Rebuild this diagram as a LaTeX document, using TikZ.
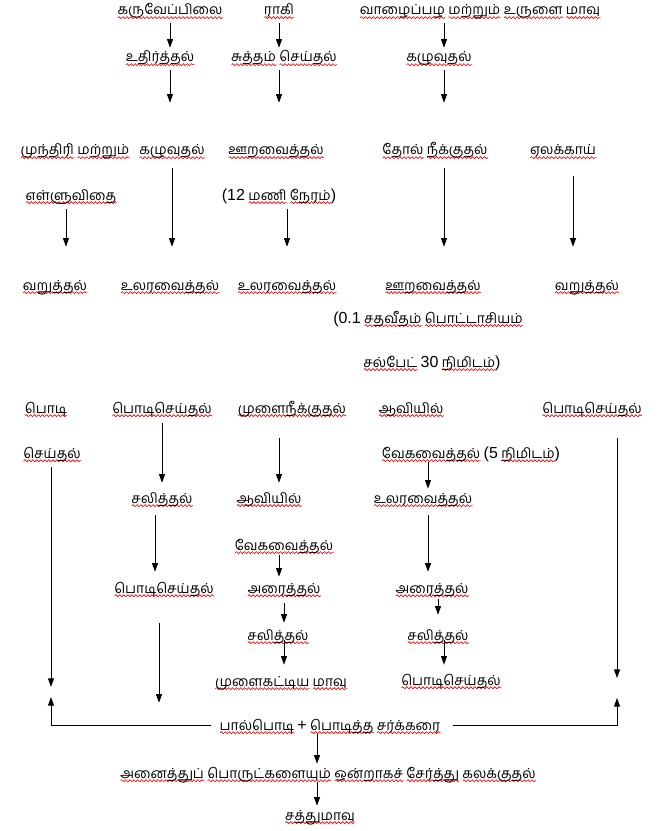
\documentclass[tikz,border=0pt]{standalone}
\usepackage{fontspec}
\setmainfont[Script=Tamil]{Hind Madurai}
\newfontfamily\latfont{Liberation Sans}
\usetikzlibrary{arrows.meta}
\usetikzlibrary{decorations.pathmorphing}
\newsavebox\wvbox
\newlength\wvlen
\newcommand\wv[1]{\sbox\wvbox{#1}\setlength\wvlen{\wd\wvbox}%
  \rlap{\tikz[baseline=0pt,x=1pt,y=1pt]\draw[red,line width=0.5pt,decorate,
    decoration={snake,amplitude=0.75pt,segment length=3pt}] (0,-2) -- (\wvlen,-2);}%
  \usebox\wvbox}
\newcommand\lt[1]{{\latfont\fontsize{12}{14}\selectfont #1}}

\begin{document}
\begin{tikzpicture}[x=0.75pt,y=-0.75pt,line width=0.75pt,
  every node/.style={inner sep=0pt,anchor=base,text height=10.5pt,text depth=3pt,
    font=\fontsize{10.4}{12}\selectfont},
  arr/.style={-{Triangle[width=4.5pt,length=6.5pt]}}]
\useasboundingbox (0,0) rectangle (669,831);

\node (kv)  at (170,15)  {\wv{கருவேப்பிலை}};
\node (rg)  at (279,15)  {\wv{ராகி}};
\node (vz)  at (480,15)  {\wv{வாழைப்பழ} \wv{மற்றும்} \wv{உருளை} \wv{மாவு}};
\node (ud)  at (160,62)  {\wv{உதிர்த்தல்}};
\node (st)  at (284,62)  {\wv{சுத்தம்} \wv{செய்தல்}};
\node (kz)  at (439,62)  {\wv{கழுவுதல்}};
\node (mu)  at (75,155)  {\wv{முந்திரி} \wv{மற்றும்}};
\node (kz2) at (172,155) {\wv{கழுவுதல்}};
\node (ur)  at (276,155) {\wv{ஊறவைத்தல்}};
\node (tn)  at (435,155) {\wv{தோல்} \wv{நீக்குதல்}};
\node (el)  at (563,155) {\wv{ஏலக்காய்}};
\node (eb)  at (71,200)  {\wv{எள்ளுவிதை}};
\node (hr)  at (279,200) {\lt{(12} \wv{மணி} \wv{நேரம்}\lt{)}};
\node (vr1) at (55,290)  {\wv{வறுத்தல்}};
\node (ul1) at (170,290) {\wv{உலரவைத்தல்}};
\node (ul2) at (287,290) {\wv{உலரவைத்தல்}};
\node (oo)  at (433,290) {\wv{ஊறவைத்தல்}};
\node (vr2) at (587,290) {\wv{வறுத்தல்}};
\node (pt)  at (428,323) {\lt{(0.1} \wv{சதவீதம்} \wv{பொட்டாசியம்}};
\node (sp)  at (432,367) {\wv{சல்பேட்} \lt{30} \wv{நிமிடம்}\lt{)}};
\node (pd)  at (46,413)  {\wv{பொடி}};
\node (pc1) at (162,413) {\wv{பொடிசெய்தல்}};
\node (mn)  at (292,413) {\wv{முளைநீக்குதல்}};
\node (av2) at (411,413) {\wv{ஆவியில்}};
\node (pc2) at (592,413) {\wv{பொடிசெய்தல்}};
\node (sd)  at (52,458)  {\wv{செய்தல்}};
\node (vk2) at (471,458) {\wv{வேகவைத்தல்} \lt{(5} \wv{நிமிடம்}\lt{)}};
\node (sl1) at (162,503) {\wv{சலித்தல்}};
\node (av1) at (269,503) {\wv{ஆவியில்}};
\node (ul3) at (423,503) {\wv{உலரவைத்தல்}};
\node (vk1) at (284,550) {\wv{வேகவைத்தல்}};
\node (pc3) at (164,593) {\wv{பொடிசெய்தல்}};
\node (ar1) at (284,593) {\wv{அரைத்தல்}};
\node (ar2) at (432,593) {\wv{அரைத்தல்}};
\node (sl2) at (278,640) {\wv{சலித்தல்}};
\node (sl3) at (438,640) {\wv{சலித்தல்}};
\node (mk)  at (281,686) {\wv{முளைகட்டிய} \wv{மாவு}};
\node (pc4) at (451,685) {\wv{பொடிசெய்தல்}};
\node (pp)  at (330,730) {\wv{பால்பொடி} \lt{+} \wv{பொடித்த} \wv{சர்க்கரை}};
\node (ak)  at (328,778) {\wv{அனைத்துப்} \wv{பொருட்களையும்} \wv{ஒன்றாகச்} \wv{சேர்த்து} \wv{கலக்குதல்}};
\node (sm)  at (320,820) {\wv{சத்துமாவு}};
\coordinate (jl) at (51,697);
\coordinate (jr) at (617,698);

\draw[arr,shorten <=3pt] (kv.south) -- (kv.south |- ud.north);
\draw[arr,shorten <=3pt] (rg.south) -- (rg.south |- st.north);
\draw[arr,shorten <=3pt] ([xshift=3.75pt]kz.north |- vz.south) -- ([xshift=3.75pt]kz.north);
\draw[arr,shorten <=3pt,shorten >=28.5pt] (ud.south -| kv.south) -- (kz2.north -| kv.south);
\draw[arr,shorten <=3pt,shorten >=28.5pt] (st.south -| rg.south) -- (ur.north -| rg.south);
\draw[arr,shorten <=3pt,shorten >=28.5pt] ([xshift=3.75pt]kz.south) -- ([xshift=3.75pt]kz.south |- tn.north);
\draw[arr,shorten <=3.75pt,shorten >=21.75pt] ([xshift=-3.75pt]eb.south) -- ([xshift=-3.75pt]eb.south |- vr1.north);
\draw[arr,shorten <=6.75pt,shorten >=21.75pt] (kz2.south) -- (kz2.south |- ul1.north);
\draw[arr,shorten <=3.75pt,shorten >=21.75pt] (ul2.north |- hr.south) -- (ul2.north);
\draw[arr,shorten <=6.75pt,shorten >=21.75pt] ([xshift=3.75pt]tn.south -| kz.south) -- ([xshift=3.75pt]oo.north -| kz.south);
\draw[arr,shorten <=12.75pt,shorten >=21.75pt] ([xshift=7.5pt]el.south) -- ([xshift=7.5pt]el.south |- vr2.north);
\draw[arr,shorten <=4.5pt,shorten >=4.5pt] (pc1.south) -- (sl1.north);
\draw[arr,shorten <=15.75pt,shorten >=4.5pt] (mn.south -| rg.south) -- (av1.north -| rg.south);
\draw[arr] ([xshift=3.75pt]ul3.north |- vk2.south) -- ([xshift=3.75pt]ul3.north);
\draw[arr,shorten <=3.75pt,shorten >=7.5pt] (sd.south -| jl) -- (jl);
\draw[arr,shorten <=15.75pt,shorten >=15pt] (pc2.south -| jr) -- (jr);
\draw[arr,shorten <=6pt,shorten >=5.25pt] ([xshift=-5.25pt]sl1.south) -- ([xshift=-5.25pt]sl1.south |- pc3.north);
\draw[arr,shorten <=0.75pt,shorten >=1.5pt] (vk1.south -| rg.south) -- (ar1.north -| rg.south);
\draw[arr,shorten <=6pt,shorten >=5.25pt] ([xshift=3.75pt]ul3.south) -- ([xshift=3.75pt]ul3.south |- ar2.north);
\draw[arr,shorten <=4.5pt,shorten >=2.25pt] (ar1.south) -- (ar1.south |- sl2.north);
\draw[arr,shorten <=-3pt,shorten >=5.25pt] (sl2.south -| ar1.south) -- (mk.north -| ar1.south);
\draw[arr,shorten <=1.5pt,shorten >=8.25pt] (sl3.north |- ar2.south) -- (sl3.north);
\draw[arr,shorten <=-3pt,shorten >=4.5pt] ([xshift=4.5pt]sl3.south) -- ([xshift=4.5pt]sl3.south |- pc4.north);
\draw[arr,shorten <=19.5pt,shorten >=9.75pt] ([xshift=-3.75pt]pc3.south) -- ([xshift=-3.75pt]pc3.south |- pp.north);
\draw[arr,shorten <=6pt] (pp.west) -| (jl);
\draw[arr,shorten <=9pt] (pp.east) -| (jr);
\draw[arr] ([xshift=-2.25pt]pp.south -| sm.north) -- ([xshift=-2.25pt]ak.north -| sm.north);
\draw[arr] ([xshift=-2.25pt]ak.south -| sm.north) -- ([xshift=-2.25pt]sm.north);
\end{tikzpicture}
\end{document}
